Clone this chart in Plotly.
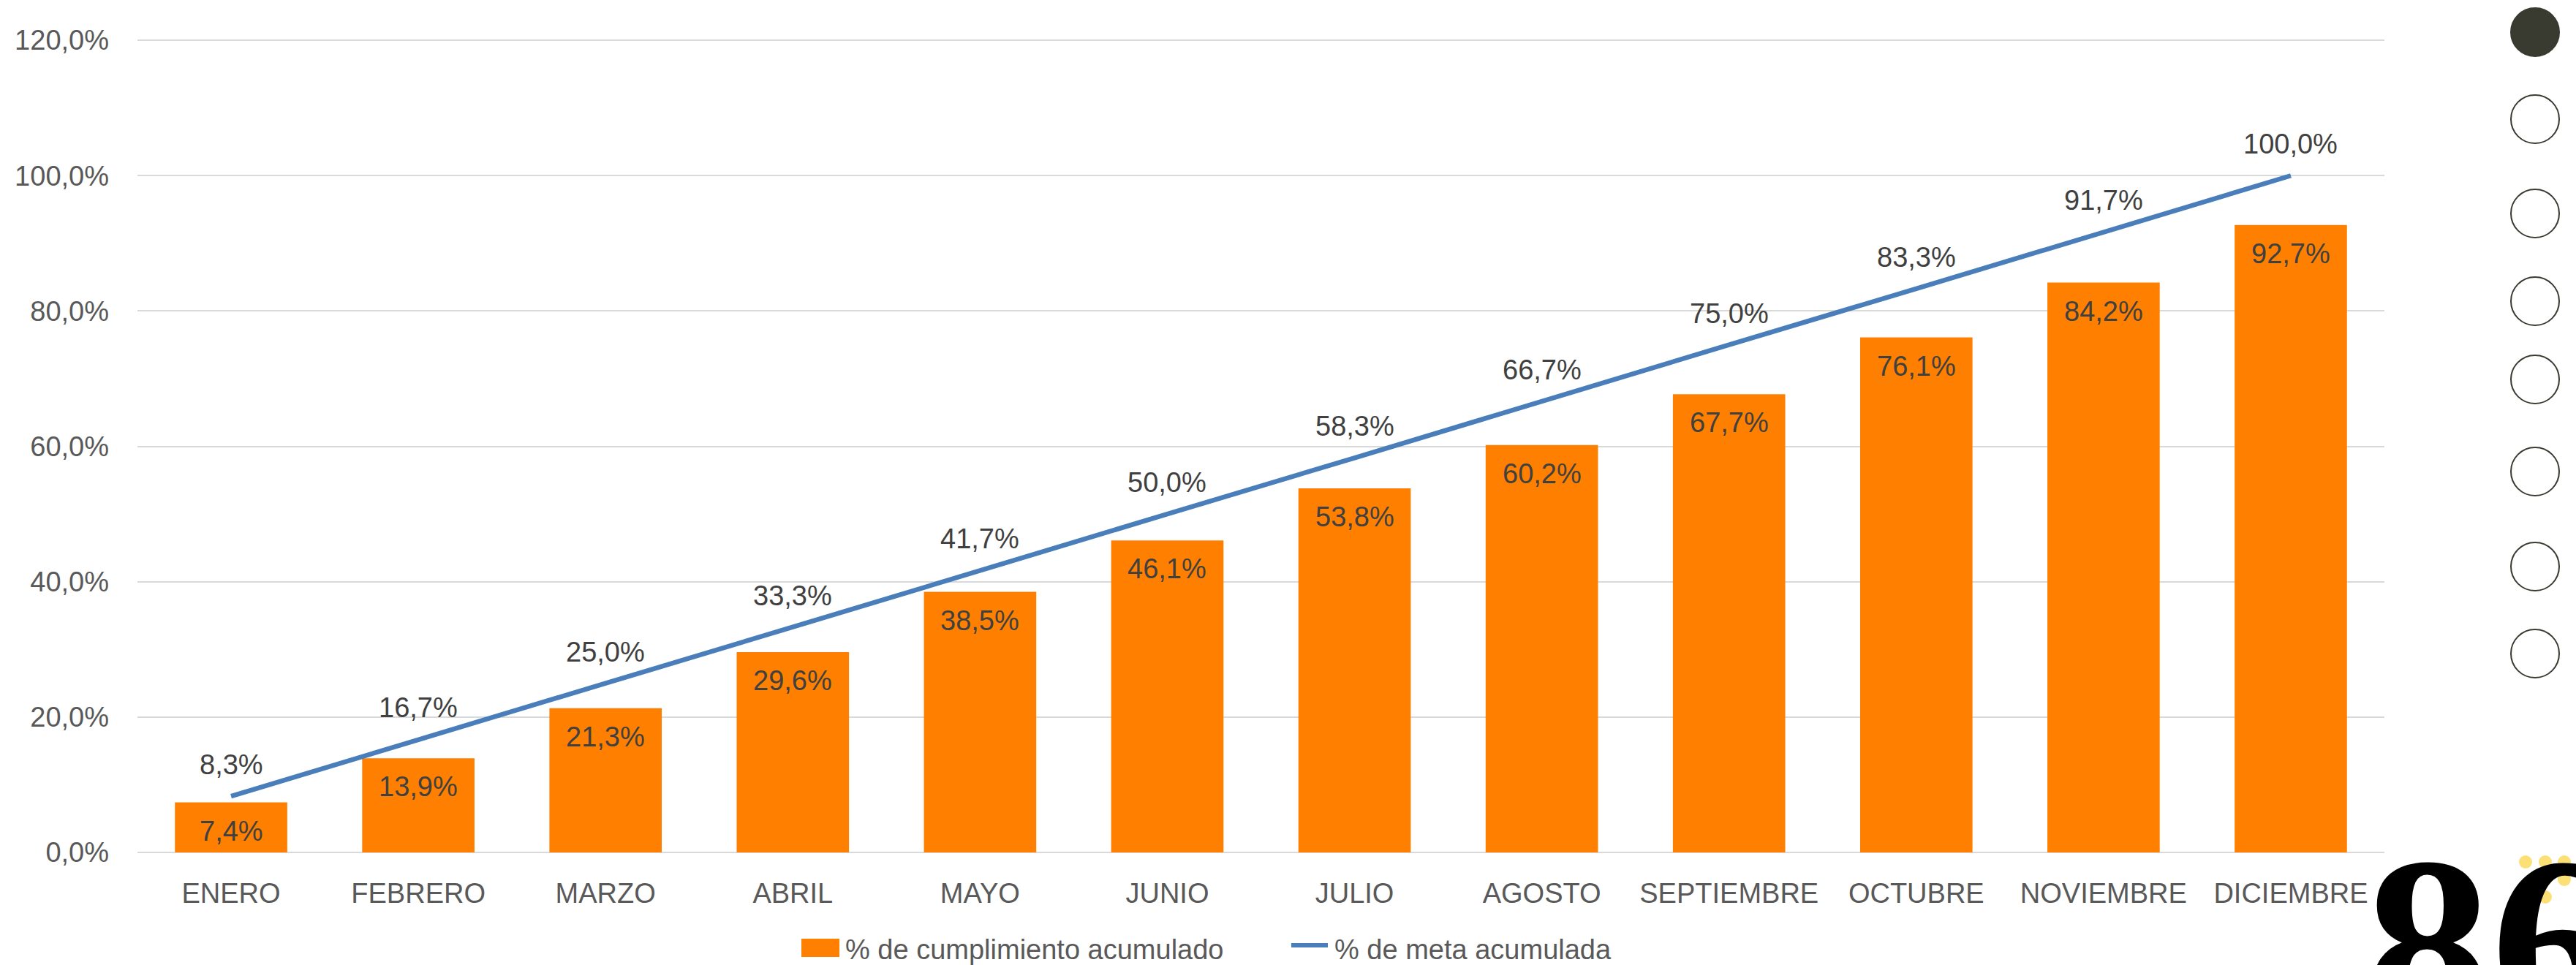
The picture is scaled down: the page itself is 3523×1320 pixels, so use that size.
import plotly.graph_objects as go

# ---------------- data ----------------
meses = ["ENERO", "FEBRERO", "MARZO", "ABRIL", "MAYO", "JUNIO", "JULIO",
         "AGOSTO", "SEPTIEMBRE", "OCTUBRE", "NOVIEMBRE", "DICIEMBRE"]
cumplimiento = [7.4, 13.9, 21.3, 29.6, 38.5, 46.1, 53.8, 60.2, 67.7, 76.1, 84.2, 92.7]
meta = [8.3, 16.7, 25.0, 33.3, 41.7, 50.0, 58.3, 66.7, 75.0, 83.3, 91.7, 100.0]
serie_barras = "% de cumplimiento acumulado"
serie_linea = "% de meta acumulada"
y_ticks = [0, 20, 40, 60, 80, 100, 120]

# ---------------- style ----------------
W, H = 3523, 1320
ML, MR, MT, MB = 188, 262, 54, 154
PW, PH = W - ML - MR, H - MT - MB
FONT = "Liberation Sans, Arial, sans-serif"
FS = 38
ORANGE = "#FF8000"
BLUE = "#4A7EBB"
AXIS_TXT = "#595959"
LABEL_TXT = "#404040"


def px(x):
    return (x - ML) / PW


def py(y):
    return (H - MB - y) / PH


def fmt(v):
    return f"{v:.1f}%".replace(".", ",")


fig = go.Figure()
fig.add_trace(go.Bar(x=meses, y=cumplimiento, name=serie_barras,
                     marker=dict(color=ORANGE, line=dict(width=0)),
                     showlegend=False, hoverinfo="x+y"))
fig.add_trace(go.Scatter(x=meses, y=meta, name=serie_linea, mode="lines",
                         line=dict(color=BLUE, width=6.5),
                         showlegend=False))

annotations = []
for m, v in zip(meses, cumplimiento):
    annotations.append(dict(x=m, y=v, xref="x", yref="y", text=fmt(v),
                            showarrow=False, yshift=-39, yanchor="middle",
                            font=dict(family=FONT, size=FS, color=LABEL_TXT)))
for m, v in zip(meses, meta):
    annotations.append(dict(x=m, y=v, xref="x", yref="y", text=fmt(v),
                            showarrow=False, yshift=43, yanchor="middle",
                            font=dict(family=FONT, size=FS, color=LABEL_TXT)))

# manual legend
annotations.append(dict(x=px(1154), y=py(1299), xref="paper", yref="paper",
                        text=serie_barras, showarrow=False, xanchor="left",
                        yanchor="middle",
                        font=dict(family=FONT, size=FS, color=AXIS_TXT)))
annotations.append(dict(x=px(1823), y=py(1299), xref="paper", yref="paper",
                        text=serie_linea, showarrow=False, xanchor="left",
                        yanchor="middle",
                        font=dict(family=FONT, size=FS, color=AXIS_TXT)))

shapes = [
    dict(type="rect", xref="paper", yref="paper",
         x0=px(1096), x1=px(1148), y0=py(1309), y1=py(1284),
         fillcolor=ORANGE, line=dict(width=0)),
    dict(type="line", xref="paper", yref="paper",
         x0=px(1766), x1=px(1816), y0=py(1293), y1=py(1293),
         line=dict(color=BLUE, width=6)),
]

# decorative circles on the right
circle_y = [44, 163, 292, 412, 519, 645, 775, 894]
cx, r = 3467, 33
for i, cy in enumerate(circle_y):
    shapes.append(dict(type="circle", xref="paper", yref="paper",
                       x0=px(cx - r), x1=px(cx + r), y0=py(cy + r), y1=py(cy - r),
                       fillcolor="#393A30" if i == 0 else "rgba(0,0,0,0)",
                       line=dict(color="#393A30", width=2)))

# yellow dots
dots = [(3454, 1179), (3481, 1179), (3507, 1179), (3481, 1203), (3507, 1203), (3481, 1227)]
for (dx, dy) in dots:
    shapes.append(dict(type="circle", xref="paper", yref="paper",
                       x0=px(dx - 9), x1=px(dx + 9), y0=py(dy + 9), y1=py(dy - 9),
                       fillcolor="#FCE076", line=dict(width=0)))

annotations.append(dict(x=px(3232), y=py(1100), xref="paper", yref="paper",
                        text="<b>86</b>", showarrow=False, xanchor="left", yanchor="top",
                        font=dict(family="Liberation Serif, DejaVu Serif, serif",
                                  size=345, color="#000000")))

fig.update_layout(
    width=W, height=H,
    margin=dict(l=ML, r=MR, t=MT, b=MB, pad=0),
    paper_bgcolor="white", plot_bgcolor="white",
    separators=",.",
    bargap=0.4,
    font=dict(family=FONT, size=FS, color=AXIS_TXT),
    showlegend=False,
    xaxis=dict(showgrid=False, showline=False, zeroline=False, ticks="",
               ticklabelstandoff=30,
               tickfont=dict(family=FONT, size=FS, color=AXIS_TXT)),
    yaxis=dict(range=[0, 120.12], tickmode="array", tickvals=y_ticks,
               ticktext=[fmt(v) for v in y_ticks],
               showgrid=True, gridcolor="#D9D9D9", gridwidth=2,
               zeroline=True, zerolinecolor="#D9D9D9", zerolinewidth=2,
               showline=False, ticks="", ticklabelstandoff=38,
               tickfont=dict(family=FONT, size=FS, color=AXIS_TXT)),
    annotations=annotations,
    shapes=shapes,
)

fig.write_html("out.html", config={"displayModeBar": False},
               post_script="document.body.style.margin='0';document.body.style.overflow='hidden';")
